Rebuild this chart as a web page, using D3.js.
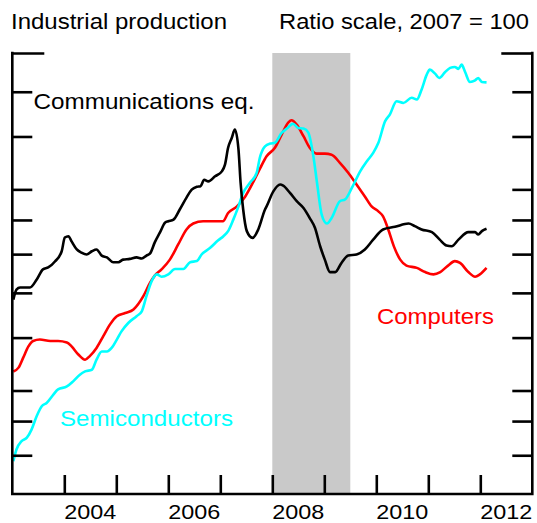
<!DOCTYPE html>
<html>
<head>
<meta charset="utf-8">
<script src="https://cdn.jsdelivr.net/npm/d3@7"></script>
<style>
  html, body { margin: 0; padding: 0; background: #fff; }
  svg { display: block; font-family: "Liberation Sans", Arial, Helvetica, sans-serif; }
</style>
</head>
<body>
<svg id="chart" width="537" height="523"></svg>
<script>
// ---------------- DATA (index, 2007 = 100; ratio scale) ----------------
const communications = [
  [2003.02,68.4],[2003.08,70.8],[2003.15,71.3],[2003.34,71.3],[2003.47,73.3],[2003.59,75.9],
  [2003.69,76.4],[2003.82,78.0],[2003.95,80.8],[2004.01,84.7],[2004.08,85.1],[2004.14,83.6],
  [2004.24,81.3],[2004.33,80.4],[2004.43,79.9],[2004.53,80.8],[2004.62,81.3],[2004.72,79.6],
  [2004.82,79.1],[2004.94,77.8],[2005.04,77.8],[2005.13,78.5],[2005.26,78.7],[2005.39,79.1],
  [2005.49,78.8],[2005.58,79.6],[2005.65,80.2],[2005.74,83.3],[2005.84,86.2],[2005.94,89.2],
  [2006.00,89.6],[2006.10,90.1],[2006.22,93.3],[2006.35,97.2],[2006.45,99.9],[2006.55,100.9],
  [2006.62,101.1],[2006.69,103.4],[2006.77,102.8],[2006.90,104.6],[2007.03,106.4],[2007.09,108.9],
  [2007.15,115.4],[2007.22,119.4],[2007.28,122.9],[2007.35,114.7],[2007.39,102.4],[2007.44,93.3],
  [2007.51,86.6],[2007.62,84.6],[2007.73,87.1],[2007.86,93.3],[2007.89,94.3],[2008.02,99.3],
  [2008.15,101.7],[2008.21,101.3],[2008.34,98.8],[2008.47,96.0],[2008.60,93.8],[2008.72,90.6],
  [2008.82,87.6],[2008.92,82.2],[2009.01,78.5],[2009.11,75.2],[2009.21,75.2],[2009.33,77.6],
  [2009.46,79.6],[2009.62,79.9],[2009.78,81.3],[2009.94,84.1],[2010.13,87.1],[2010.36,87.9],
  [2010.62,88.9],[2010.74,88.1],[2010.87,87.1],[2011.07,86.3],[2011.22,84.1],[2011.35,82.4],
  [2011.45,82.2],[2011.58,84.1],[2011.77,86.3],[2011.90,86.3],[2011.96,85.6],[2012.03,86.6],
  [2012.12,87.3]
];
const computers = [
  [2003.02,53.4],[2003.12,54.1],[2003.21,56.0],[2003.31,58.2],[2003.40,59.3],[2003.53,59.6],
  [2003.73,59.3],[2003.88,59.3],[2004.05,59.0],[2004.14,58.2],[2004.27,56.6],[2004.40,55.6],
  [2004.49,56.3],[2004.62,57.9],[2004.75,60.3],[2004.88,62.8],[2005.01,64.6],[2005.17,65.3],
  [2005.33,66.1],[2005.52,69.2],[2005.65,72.5],[2005.74,74.3],[2005.87,75.9],[2006.03,78.5],
  [2006.19,82.7],[2006.35,87.1],[2006.48,88.9],[2006.67,89.6],[2006.87,89.6],[2007.05,89.6],
  [2007.15,92.2],[2007.32,94.3],[2007.48,97.6],[2007.64,102.8],[2007.77,107.7],[2007.89,112.1],
  [2008.05,115.4],[2008.18,120.8],[2008.31,126.0],[2008.37,126.9],[2008.47,125.0],[2008.60,120.1],
  [2008.72,115.4],[2008.85,113.1],[2009.01,113.1],[2009.14,112.7],[2009.30,109.6],[2009.46,105.9],
  [2009.62,101.7],[2009.78,97.6],[2009.91,94.3],[2010.04,92.7],[2010.13,91.1],[2010.23,87.1],
  [2010.34,82.1],[2010.46,78.5],[2010.58,76.9],[2010.78,76.3],[2010.94,75.2],[2011.10,74.6],
  [2011.23,75.2],[2011.38,76.9],[2011.51,78.1],[2011.61,77.6],[2011.77,75.2],[2011.90,74.0],
  [2011.99,74.6],[2012.12,76.3]
];
const semiconductors = [
  [2003.02,39.2],[2003.08,40.8],[2003.18,42.0],[2003.28,42.5],[2003.37,43.7],[2003.47,45.8],
  [2003.57,47.4],[2003.66,47.9],[2003.79,49.3],[2003.88,50.2],[2004.05,50.7],[2004.17,51.6],
  [2004.30,52.8],[2004.40,53.4],[2004.53,53.7],[2004.62,55.6],[2004.72,57.2],[2004.82,57.2],
  [2004.91,57.9],[2005.01,59.6],[2005.10,61.3],[2005.23,63.1],[2005.39,64.6],[2005.49,65.7],
  [2005.58,69.2],[2005.68,72.9],[2005.78,74.6],[2005.87,74.0],[2006.00,74.6],[2006.13,76.0],
  [2006.29,76.0],[2006.42,77.8],[2006.55,78.1],[2006.64,79.9],[2006.80,81.7],[2006.96,83.9],
  [2007.06,85.1],[2007.15,86.6],[2007.25,90.1],[2007.35,94.3],[2007.44,98.8],[2007.57,102.3],
  [2007.70,105.9],[2007.76,111.5],[2007.86,116.0],[2007.96,117.1],[2008.05,117.4],[2008.18,121.5],
  [2008.28,123.3],[2008.40,125.4],[2008.50,123.6],[2008.60,123.3],[2008.69,121.7],[2008.79,112.1],
  [2008.86,102.3],[2008.95,91.7],[2009.05,88.9],[2009.14,90.6],[2009.30,96.0],[2009.40,96.6],
  [2009.53,100.5],[2009.69,106.4],[2009.82,110.2],[2009.94,113.4],[2010.04,117.4],[2010.17,126.5],
  [2010.26,129.4],[2010.39,135.5],[2010.52,134.7],[2010.68,137.1],[2010.78,136.3],[2010.87,141.0],
  [2010.97,148.5],[2011.03,151.1],[2011.13,149.0],[2011.21,146.8],[2011.32,149.7],[2011.42,152.0],
  [2011.51,152.5],[2011.58,151.5],[2011.64,153.7],[2011.71,149.7],[2011.80,144.8],[2011.90,145.6],
  [2011.96,146.8],[2012.03,144.8],[2012.12,144.6]
];
const recession = [2008.0, 2009.5];           // Dec 2007 - Jun 2009
const yTicks = [40, 45, 50, 60, 70, 80, 90, 100, 120, 140];
const yTop = 160;
const xTicks = [2004, 2005, 2006, 2007, 2008, 2009, 2010, 2011, 2012];
const xLabels = [2004, 2006, 2008, 2010, 2012];
const titleLeft = "Industrial production";
const titleRight = "Ratio scale, 2007 = 100";
const seriesLabels = ["Communications eq.", "Computers", "Semiconductors"];

// ---------------- CHART ----------------
const svg = d3.select("#chart");
const L = 12.3, R = 532.3, T = 53, B = 494;
const x = d3.scaleLinear().domain([2003, 2013]).range([L, R]);
const y = d3.scaleLog().domain([35, 160]).range([B, T]);

// recession shading
svg.append("rect")
  .attr("x", x(recession[0])).attr("y", y(yTop))
  .attr("width", x(recession[1]) - x(recession[0]))
  .attr("height", y(35) - y(yTop))
  .attr("fill", "#c9c9c9");

// lines
const line = d3.line().x(d => x(d[0])).y(d => y(d[1])).curve(d3.curveMonotoneX);
const series = [
  {data: computers, color: "#ff0000"},
  {data: semiconductors, color: "#00ffff"},
  {data: communications, color: "#000000"}
];
series.forEach(s => {
  svg.append("path").datum(s.data)
    .attr("d", line).attr("fill", "none")
    .attr("stroke", s.color).attr("stroke-width", 2.6)
    .attr("stroke-linejoin", "round");
});

// axes
function styleAxis(g) {
  g.select(".domain").remove();
  g.selectAll("line").attr("stroke", "#000").attr("stroke-width", 2.6);
  g.selectAll("text").remove();
}
svg.append("g").attr("transform", `translate(${L},0)`)
  .call(d3.axisLeft(y).tickValues(yTicks).tickSize(-20).tickFormat(""))
  .call(styleAxis);
svg.append("g").attr("transform", `translate(${L},0)`)
  .call(d3.axisLeft(y).tickValues([yTop]).tickSize(-32).tickFormat(""))
  .call(styleAxis);
svg.append("g").attr("transform", `translate(${R},0)`)
  .call(d3.axisRight(y).tickValues(yTicks).tickSize(-20).tickFormat(""))
  .call(styleAxis);
svg.append("g").attr("transform", `translate(${R},0)`)
  .call(d3.axisRight(y).tickValues([yTop]).tickSize(-31).tickFormat(""))
  .call(styleAxis);
svg.append("g").attr("transform", `translate(0,${B})`)
  .call(d3.axisBottom(x).tickValues(xTicks).tickSize(-19).tickFormat(""))
  .call(styleAxis);

// frame lines (left, right, bottom)
const frame = d3.path();
frame.moveTo(L, y(yTop) - 1.3); frame.lineTo(L, B);
frame.lineTo(R, B); frame.lineTo(R, y(yTop) - 1.3);
svg.append("path").attr("d", frame.toString())
  .attr("fill", "none").attr("stroke", "#000").attr("stroke-width", 2.6);

// year labels
svg.append("g").selectAll("text").data(xLabels).join("text")
  .attr("x", d => x(d + 0.5)).attr("y", 518.5)
  .attr("text-anchor", "middle")
  .attr("font-size", 21).attr("textLength", 52).attr("lengthAdjust", "spacingAndGlyphs")
  .text(d => d);

// titles
svg.append("text").attr("x", 11).attr("y", 28.5)
  .attr("font-size", 21.5).attr("textLength", 216).attr("lengthAdjust", "spacingAndGlyphs")
  .text(titleLeft);
svg.append("text").attr("x", 279).attr("y", 28.5)
  .attr("font-size", 21.5).attr("textLength", 250).attr("lengthAdjust", "spacingAndGlyphs")
  .text(titleRight);

// series labels
svg.append("text").attr("x", 33.5).attr("y", 109)
  .attr("font-size", 21.5).attr("textLength", 221).attr("lengthAdjust", "spacingAndGlyphs")
  .attr("fill", "#000").text(seriesLabels[0]);
svg.append("text").attr("x", 377).attr("y", 323.5)
  .attr("font-size", 21.5).attr("textLength", 117).attr("lengthAdjust", "spacingAndGlyphs")
  .attr("fill", "#ff0000").text(seriesLabels[1]);
svg.append("text").attr("x", 60).attr("y", 425.5)
  .attr("font-size", 21.5).attr("textLength", 173).attr("lengthAdjust", "spacingAndGlyphs")
  .attr("fill", "#00ffff").text(seriesLabels[2]);
</script>
</body>
</html>
